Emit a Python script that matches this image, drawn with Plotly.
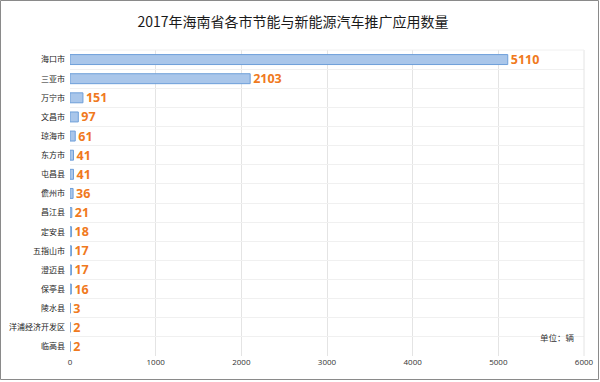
import plotly.graph_objects as go

categories = ["海口市", "三亚市", "万宁市", "文昌市", "琼海市", "东方市", "屯昌县", "儋州市",
              "昌江县", "定安县", "五指山市", "澄迈县", "保亭县", "陵水县", "洋浦经济开发区", "临高县"]
values = [5110, 2103, 151, 97, 61, 41, 41, 36, 21, 18, 17, 17, 16, 3, 2, 2]
x_ticks = [0, 1000, 2000, 3000, 4000, 5000, 6000]

title = "2017年海南省各市节能与新能源汽车推广应用数量"
unit = "单位：辆"

CJK = "Noto Sans CJK SC"

W, H = 600, 382
L, R, T, B = 70, 16, 50, 26
pw, ph = W - L - R, H - T - B

fig = go.Figure(go.Bar(
    x=values, y=categories, orientation="h",
    width=0.52,
    marker=dict(color="#a9c6ea", line=dict(color="#6e9fd9", width=1)),
    text=[str(v) for v in values], textposition="outside",
    constraintext="none",
    textfont=dict(family="Open Sans", size=12.5, color="#f07920", weight="bold"),
    cliponaxis=False,
))

fig.update_layout(
    width=W, height=H,
    margin=dict(l=L, r=R, t=T, b=B, autoexpand=False),
    paper_bgcolor="white", plot_bgcolor="white",
    title=dict(text=title, x=293 / W, xanchor="center", y=1 - 22 / H, yanchor="middle",
               font=dict(family=CJK, size=14, color="#1a1a1a")),
    showlegend=False,
    xaxis=dict(range=[0, 6000], tickvals=x_ticks, showgrid=True, gridcolor="#e4e4e4",
               gridwidth=1, zeroline=False, showline=False, automargin=False,
               tickfont=dict(family="Open Sans", size=8, color="#333"), ticks=""),
    yaxis=dict(type="category", autorange="reversed", tickson="boundaries",
               showgrid=True, gridcolor="#f0f0f0", gridwidth=1, ticks="",
               showline=False, zeroline=False, automargin=False,
               tickfont=dict(family=CJK, size=8, color="#222"), ticklabelstandoff=4),
    annotations=[dict(text=unit, xref="paper", yref="paper", x=(577 - L) / pw, y=(H - B - 337) / ph,
                      xanchor="right", yanchor="middle", showarrow=False,
                      font=dict(family=CJK, size=8.5, color="#333"))],
    shapes=[
        dict(type="rect", xref="paper", yref="paper",
             x0=(0.5 - L) / pw, x1=(W - 1.5 - L) / pw,
             y0=(H - B - (H - 2.5)) / ph, y1=(H - B - 0.5) / ph,
             line=dict(color="#8a8a8a", width=1), fillcolor="rgba(0,0,0,0)", layer="above"),
        dict(type="line", xref="paper", yref="paper", x0=1, x1=1, y0=0, y1=1,
             line=dict(color="#e4e4e4", width=1)),
        dict(type="line", xref="paper", yref="paper", x0=0, x1=1, y0=1, y1=1,
             line=dict(color="#f0f0f0", width=1)),
    ],
)

fig.write_html("out.html", config={"displayModeBar": False},
               post_script="document.body.style.margin='0';document.body.style.overflow='hidden';")
